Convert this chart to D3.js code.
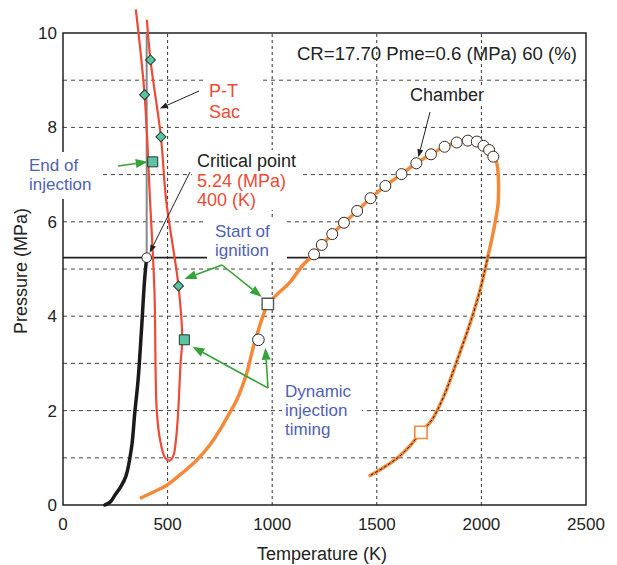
<!DOCTYPE html>
<html>
<head>
<meta charset="utf-8">
<script src="https://cdn.jsdelivr.net/npm/d3@7/dist/d3.min.js"></script>
<style>
    body { margin: 0; background: #fff; }
    svg text { font-family: "Liberation Sans", Arial, sans-serif; }
</style>
</head>
<body>
<svg id="chart" width="617" height="565"></svg>
<script>
// axis ticks and grid
var xTicks = [0, 500, 1000, 1500, 2000, 2500];
var yTicks = [0, 2, 4, 6, 8, 10];
var xGrid = [500, 1000, 1500, 2000];
var yGrid = [1, 2, 3, 4, 5, 6, 7, 8, 9];

// critical point of the fuel
var critT = 400, critP = 5.24;

// fuel vapour in the sac (black)
var vapT = [200, 225, 250, 275, 300, 328, 343, 359, 375, 390, 400];
var vapP = [0, 0.06, 0.22, 0.38, 0.6, 1.23, 1.95, 2.65, 3.7, 4.77, 5.24];

// P-T Sac (red)
var sacT = [348, 390, 416, 437, 448, 464, 488, 511, 528, 540, 551, 562, 570, 552, 493, 468, 418, 401];
var sacP = [10.5, 8.69, 6.46, 4.55, 2.01, 1.38, 1.0, 0.94, 1.05, 1.38, 2.01, 3.0, 3.5, 4.64, 6.46, 7.8, 9.43, 10.28];

// markers on the sac curve
var sacDiamonds = [[418, 9.43], [390, 8.69], [468, 7.8], [552, 4.64]];
var sacSquares = [[429, 7.27], [580, 3.5]];

// chamber: compression up to first circle (orange)
var cycT = [368, 430, 496, 565, 639, 700, 750, 790, 830, 878, 910, 966, 979, 1030, 1081, 1146, 1200];
var cycP = [0.14, 0.27, 0.42, 0.66, 0.95, 1.26, 1.59, 1.9, 2.22, 2.79, 3.35, 4.13, 4.26, 4.49, 4.70, 5.08, 5.31];
// chamber circles
var chT = [1200, 1237, 1287, 1343, 1406, 1470, 1541, 1618, 1689, 1759, 1824, 1882, 1935, 1978, 2010, 2037, 2057];
var chP = [5.31, 5.51, 5.74, 5.98, 6.23, 6.5, 6.76, 7.01, 7.24, 7.43, 7.59, 7.68, 7.72, 7.70, 7.61, 7.52, 7.38];
// expansion (top right down to exhaust)
var expT = [2057, 2073, 2081, 2065, 2033, 1994, 1946, 1890, 1819, 1763, 1711, 1660, 1605, 1535, 1462];
var expP = [7.38, 7.25, 6.46, 5.97, 5.30, 4.56, 3.85, 3.14, 2.29, 1.80, 1.54, 1.26, 1.02, 0.8, 0.61];

var dynInj = [934, 3.5];
var ignition = [979, 4.26];
var exhaust = [1711, 1.54];

var RED = "#ee4a36", ORANGE = "#f5893a", BLUE = "#4f5fb5", GREEN = "#36a339",
    TEAL = "#5ec3a0", FONT = 18;

var svg = d3.select("#chart");
var x = d3.scaleLinear().domain([0, 2500]).range([63, 586]);
var y = d3.scaleLinear().domain([0, 10]).range([505, 33]);

var line = d3.line()
    .x(function (d) { return x(d[0]); })
    .y(function (d) { return y(d[1]); })
    .curve(d3.curveCatmullRom.alpha(0.5));

// grid
svg.append("g").selectAll("line")
    .data(yGrid).enter().append("line")
    .attr("x1", x(0)).attr("x2", x(2500))
    .attr("y1", function (d) { return y(d); })
    .attr("y2", function (d) { return y(d); })
    .attr("stroke", "#444").attr("stroke-width", 1)
    .attr("stroke-dasharray", "4,4");

svg.append("g").selectAll("line")
    .data(xGrid).enter().append("line")
    .attr("y1", y(0)).attr("y2", y(10))
    .attr("x1", function (d) { return x(d); })
    .attr("x2", function (d) { return x(d); })
    .attr("stroke", "#333").attr("stroke-width", 1)
    .attr("stroke-dasharray", "3,3");

// frame
svg.append("rect")
    .attr("x", x(0)).attr("y", y(10))
    .attr("width", x(2500) - x(0)).attr("height", y(0) - y(10))
    .attr("fill", "none").attr("stroke", "#222").attr("stroke-width", 1.5);

// tick labels
svg.append("g").selectAll("text")
    .data(xTicks).enter().append("text")
    .attr("x", function (d) { return x(d); })
    .attr("y", 530)
    .attr("text-anchor", "middle")
    .attr("font-size", 17).attr("fill", "#222")
    .text(function (d) { return d; });

svg.append("g").selectAll("text")
    .data(yTicks).enter().append("text")
    .attr("x", 57)
    .attr("y", function (d) { return y(d) + 6; })
    .attr("text-anchor", "end")
    .attr("font-size", 17).attr("fill", "#222")
    .text(function (d) { return d; });

svg.append("text")
    .attr("x", 322).attr("y", 560)
    .attr("text-anchor", "middle").attr("font-size", FONT).attr("fill", "#222")
    .text("Temperature (K)");

svg.append("text")
    .attr("transform", "translate(27,271) rotate(-90)")
    .attr("text-anchor", "middle").attr("font-size", FONT).attr("fill", "#222")
    .text("Pressure (MPa)");

// critical pressure line and critical temperature line
svg.append("line")
    .attr("x1", x(0)).attr("x2", x(2500))
    .attr("y1", y(critP)).attr("y2", y(critP))
    .attr("stroke", "#222").attr("stroke-width", 1.6);
svg.append("line")
    .attr("x1", x(critT)).attr("x2", x(critT))
    .attr("y1", y(10)).attr("y2", y(critP))
    .attr("stroke", "#888").attr("stroke-width", 2);

// labels with white boxes
function label(lines, left, base, step, size, color, box) {
    if (box) {
        svg.append("rect")
            .attr("x", box[0]).attr("y", box[1])
            .attr("width", box[2]).attr("height", box[3])
            .attr("fill", "#fff");
    }
    lines.forEach(function (s, i) {
        svg.append("text")
            .attr("x", left).attr("y", base + i * step)
            .attr("font-size", size)
            .attr("fill", Array.isArray(color) ? color[i] : color)
            .text(s);
    });
}

label(["P-T", "Sac"], 209, 97, 21, FONT, RED, [203, 78, 60, 44]);
label(["End of", "injection"], 29, 171, 19, 17, BLUE, [27, 152, 72, 47]);
label(["Critical point", "5.24 (MPa)", "400 (K)"], 197, 167, 19.5, FONT, ["#222", RED, RED], [192, 150, 108, 60]);
label(["Start of", "ignition"], 215, 237, 19, 17, BLUE, [207, 218, 80, 43]);
label(["Dynamic", "injection", "timing"], 285, 397, 19, 17, BLUE, [282, 380, 80, 62]);
label(["Chamber"], 410, 101, 0, FONT, "#222", [407, 86, 81, 20]);

svg.append("text")
    .attr("x", 577).attr("y", 60)
    .attr("text-anchor", "end")
    .attr("font-size", 18.6).attr("fill", "#222")
    .text("CR=17.70 Pme=0.6 (MPa) 60 (%)");

// curves
svg.append("path")
    .datum(d3.zip(sacT, sacP))
    .attr("d", line)
    .attr("fill", "none").attr("stroke", RED).attr("stroke-width", 2.2);

svg.append("path")
    .datum(d3.zip(vapT, vapP))
    .attr("d", line)
    .attr("fill", "none").attr("stroke", "#1a1a1a").attr("stroke-width", 3.5)
    .attr("stroke-linecap", "round");

var chamber = d3.zip(cycT, cycP).concat(d3.zip(chT, chP).slice(1)).concat(d3.zip(expT, expP).slice(1));
svg.append("path")
    .datum(chamber)
    .attr("d", line)
    .attr("fill", "none").attr("stroke", ORANGE).attr("stroke-width", 3.5);

svg.append("path")
    .datum(d3.zip(expT, expP).filter(function (d) { return d[1] <= 5.4; }))
    .attr("d", line)
    .attr("fill", "none").attr("stroke", "#222").attr("stroke-width", 1)
    .attr("stroke-dasharray", "3,2");

// arrows
function arrow(from, to, dx, dy, color, len, wid, sw) {
    var x2 = x(to[0]) + dx, y2 = y(to[1]) + dy,
        a = Math.atan2(y2 - from[1], x2 - from[0]),
        bx = x2 - len * Math.cos(a), by = y2 - len * Math.sin(a),
        s = Math.sin(a) * wid / 2, c = Math.cos(a) * wid / 2;
    svg.append("line")
        .attr("x1", from[0]).attr("y1", from[1])
        .attr("x2", bx).attr("y2", by)
        .attr("stroke", color).attr("stroke-width", sw);
    svg.append("path")
        .attr("d", "M" + x2 + "," + y2 + "L" + (bx + s) + "," + (by - c) + "L" + (bx - s) + "," + (by + c) + "Z")
        .attr("fill", color);
}

arrow([199, 91], [463, 8.4], 0, 0, "#222", 8, 6, 1);
arrow([190, 172], [critT, critP], 3, -5, "#222", 8, 6, 1);
arrow([430, 112], [1689, 7.24], 2, -6, "#222", 8, 6, 1);
arrow([118, 166], sacSquares[0], -5, 0, GREEN, 12, 9, 1.6);
arrow([222, 265], sacDiamonds[3], 6, -7, GREEN, 12, 9, 1.6);
arrow([222, 265], ignition, -6, -7, GREEN, 12, 9, 1.6);
arrow([268, 388], sacSquares[1], 8, 7, GREEN, 12, 9, 1.6);
arrow([268, 388], dynInj, 7, 8, GREEN, 12, 9, 1.6);

// markers
var sym = d3.symbol().type(d3.symbolSquare);

svg.append("g").selectAll("path")
    .data(sacDiamonds).enter().append("path")
    .attr("d", sym.size(50)())
    .attr("transform", function (d) { return "translate(" + x(d[0]) + "," + y(d[1]) + ") rotate(45)"; })
    .attr("fill", TEAL).attr("stroke", "#1d3b33").attr("stroke-width", 1);

svg.append("g").selectAll("path")
    .data(sacSquares).enter().append("path")
    .attr("d", sym.size(100)())
    .attr("transform", function (d) { return "translate(" + x(d[0]) + "," + y(d[1]) + ")"; })
    .attr("fill", TEAL).attr("stroke", "#1d3b33").attr("stroke-width", 1);

svg.append("g").selectAll("circle")
    .data(d3.zip(chT, chP)).enter().append("circle")
    .attr("cx", function (d) { return x(d[0]); })
    .attr("cy", function (d) { return y(d[1]); })
    .attr("r", 5.5)
    .attr("fill", "#fff").attr("stroke", "#3a2a20").attr("stroke-width", 1);

svg.append("circle")
    .attr("cx", x(critT)).attr("cy", y(critP)).attr("r", 4.8)
    .attr("fill", "#fff").attr("stroke", "#222").attr("stroke-width", 1);

svg.append("circle")
    .attr("cx", x(dynInj[0])).attr("cy", y(dynInj[1])).attr("r", 5.8)
    .attr("fill", "#fff").attr("stroke", "#222").attr("stroke-width", 1);

svg.append("path")
    .attr("d", sym.size(130)())
    .attr("transform", "translate(" + x(ignition[0]) + "," + y(ignition[1]) + ")")
    .attr("fill", "#fff").attr("stroke", "#555").attr("stroke-width", 1.4);

svg.append("path")
    .attr("d", sym.size(150)())
    .attr("transform", "translate(" + x(exhaust[0]) + "," + y(exhaust[1]) + ")")
    .attr("fill", "#fff").attr("stroke", ORANGE).attr("stroke-width", 1.6);
</script>
</body>
</html>
